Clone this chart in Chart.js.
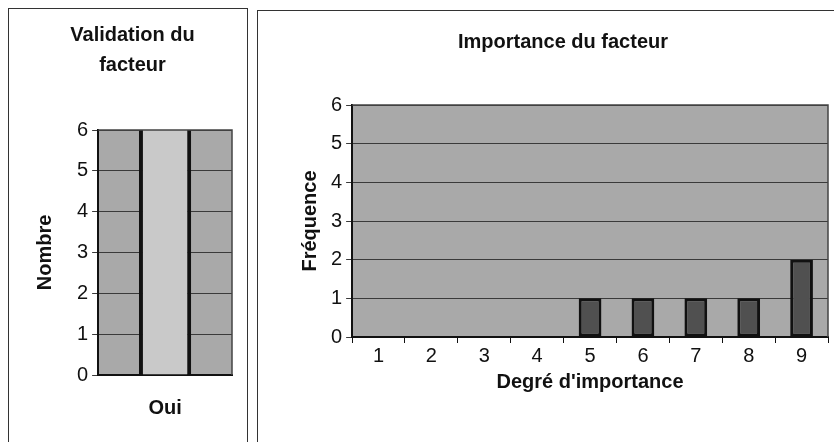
<!DOCTYPE html>
<html>
<head>
<meta charset="utf-8">
<script src="https://cdn.jsdelivr.net/npm/chart.js@4.4.0/dist/chart.umd.min.js"></script>
<style>
  body { margin: 0; background: #fff; width: 834px; height: 442px; overflow: hidden; position: relative; font-family: "Liberation Sans", Arial, sans-serif; }
  .panel { position: absolute; border: 1px solid #333; border-bottom: none; box-sizing: border-box; }
  #p1 { left: 8px; top: 8px; width: 240px; height: 434px; }
  #p2 { left: 257px; top: 10px; width: 580px; height: 432px; border-right: none; }
  canvas { position: absolute; left: 0; top: 0; }
</style>
</head>
<body>
<div class="panel" id="p1"><canvas id="c1" width="238" height="433"></canvas></div>
<div class="panel" id="p2"><canvas id="c2" width="578" height="431"></canvas></div>
<script>
var validLabels = ['Oui'];
var validValues = [6];
var degreLabels = ['1', '2', '3', '4', '5', '6', '7', '8', '9'];
var degreValues = [0, 0, 0, 0, 1, 1, 1, 1, 2];
var yTicks = [0, 1, 2, 3, 4, 5, 6];

Chart.defaults.font.family = '"Liberation Sans", Arial, sans-serif';
Chart.defaults.color = '#111';

// grey plot area with a dark frame, like the old spreadsheet charts
var plotBg = {
  id: 'plotBg',
  beforeDraw: function(chart) {
    var a = chart.chartArea, ctx = chart.ctx;
    ctx.save();
    ctx.fillStyle = '#a9a9a9';
    ctx.fillRect(a.left, a.top, a.right - a.left, a.bottom - a.top);
    ctx.restore();
  },
  afterDraw: function(chart) {
    var a = chart.chartArea, ctx = chart.ctx;
    ctx.save();
    ctx.strokeStyle = '#444';
    ctx.lineWidth = 1.5;
    ctx.beginPath();
    ctx.moveTo(a.left, a.top);
    ctx.lineTo(a.right, a.top);
    ctx.lineTo(a.right, a.bottom);
    ctx.stroke();
    ctx.restore();
  }
};

function yScale(title, titlePad) {
  return {
    min: 0, max: 6,
    afterBuildTicks: function(s) { s.ticks = yTicks.map(function(v) { return { value: v }; }); },
    grid: { color: '#3a3a3a', lineWidth: 1, tickLength: 6 },
    border: { color: '#111', width: 2 },
    ticks: { font: { size: 20 }, color: '#111', padding: 4 },
    title: { display: true, text: title, font: { size: 20, weight: 'bold' }, color: '#111', padding: { top: 0, bottom: titlePad } }
  };
}

new Chart(document.getElementById('c1'), {
  type: 'bar',
  data: {
    labels: validLabels,
    datasets: [{
      data: validValues,
      backgroundColor: '#c9c9c9',
      borderColor: '#111',
      borderWidth: { left: 4, right: 4, top: 0, bottom: 0 },
      borderSkipped: false,
      barPercentage: 0.39,
      categoryPercentage: 1
    }]
  },
  options: {
    responsive: false,
    animation: false,
    layout: { padding: { left: 24, right: 15, top: 0, bottom: 5 } },
    plugins: {
      legend: { display: false },
      tooltip: { enabled: false },
      title: { display: true, text: ['Validation du', 'facteur'], font: { size: 20, weight: 'bold', lineHeight: 1.5 }, color: '#111', padding: { top: 11, bottom: 50 } }
    },
    scales: {
      x: {
        grid: { display: false, tickLength: 4 },
        border: { color: '#111', width: 2 },
        ticks: { font: { size: 20, weight: 'bold' }, color: '#111', padding: 17 }
      },
      y: yScale('Nombre', 16)
    }
  },
  plugins: [plotBg]
});

new Chart(document.getElementById('c2'), {
  type: 'bar',
  data: {
    labels: degreLabels,
    datasets: [{
      data: degreValues,
      backgroundColor: '#505050',
      borderColor: '#111',
      borderWidth: 3,
      borderSkipped: false,
      barPercentage: 0.43,
      categoryPercentage: 1
    }]
  },
  options: {
    responsive: false,
    animation: false,
    layout: { padding: { left: 40, right: 8, top: 0, bottom: 48 } },
    plugins: {
      legend: { display: false },
      tooltip: { enabled: false },
      title: { display: true, text: 'Importance du facteur', font: { size: 20, weight: 'bold' }, color: '#111', padding: { top: 19, bottom: 51 } }
    },
    scales: {
      x: {
        grid: { display: true, drawOnChartArea: false, tickLength: 6, color: '#111', offset: true },
        border: { color: '#111', width: 2 },
        ticks: { font: { size: 20 }, color: '#111', padding: 1 },
        title: { display: true, text: "Degré d'importance", font: { size: 20, weight: 'bold' }, color: '#111', padding: { top: 1, bottom: 0 } }
      },
      y: yScale('Fréquence', 5)
    }
  },
  plugins: [plotBg]
});
</script>
</body>
</html>
